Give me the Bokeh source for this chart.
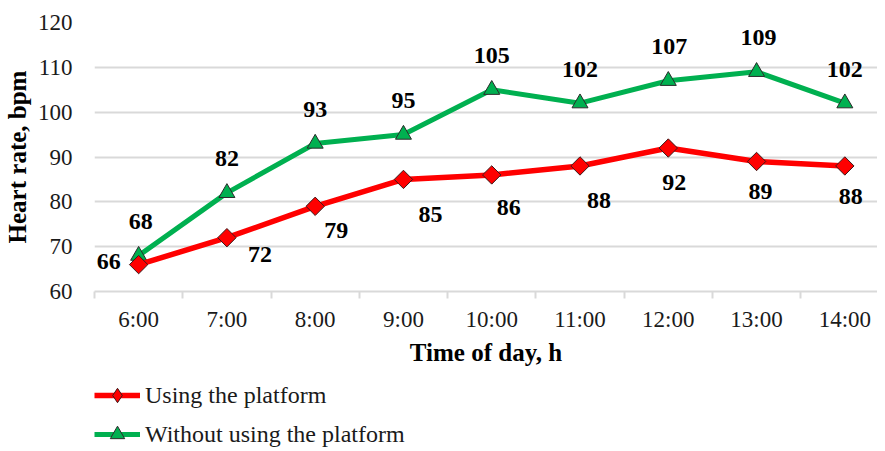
import math
from bokeh.plotting import figure
from bokeh.layouts import column
from bokeh.models import (ColumnDataSource, Range1d, FixedTicker, LabelSet,
                          Legend, LegendItem)
from bokeh.embed import file_html
from bokeh.resources import INLINE

# ---- data ----
times = ["6:00", "7:00", "8:00", "9:00", "10:00", "11:00", "12:00", "13:00", "14:00"]
using_platform = [66, 72, 79, 85, 86, 88, 92, 89, 88]
without_platform = [68, 82, 93, 95, 105, 102, 107, 109, 102]
y_ticks = [60, 70, 80, 90, 100, 110, 120]
series_names = ["Using the platform", "Without using the platform"]

# label placement (screen px), style only
red_dx = [-30, 33, 21, 27, 17, 19, 6, 4, 6]
red_dy = [3, -17, -24, -35, -33, -35, -34, -30, -31]
green_dx = [2, 0, 0, 0, 0, 0, 1, 2, 0]
green_dy = [34] * 9

FONT = "Liberation Serif"
RED = "#FF0000"
GREEN = "#00B050"
GRID = "#D9D9D9"

xs = list(range(len(times)))
src_red = ColumnDataSource(dict(x=xs, y=using_platform,
                                t=[str(v) for v in using_platform],
                                dx=red_dx, dy=red_dy))
src_green = ColumnDataSource(dict(x=xs, y=without_platform,
                                  t=[str(v) for v in without_platform],
                                  dx=green_dx, dy=green_dy))

p = figure(width=877, height=368, output_backend="svg", toolbar_location=None,
           x_range=Range1d(-0.5, 8.37), y_range=Range1d(60, 120),
           min_border_left=94, min_border_right=0, min_border_top=22,
           min_border_bottom=77)
p.outline_line_color = None
p.background_fill_color = "white"
p.border_fill_color = "white"

# axes
p.xaxis.ticker = FixedTicker(ticks=xs, minor_ticks=[i - 0.5 for i in range(len(times) + 1)])
p.xaxis.major_label_overrides = {i: t for i, t in enumerate(times)}
p.xaxis.major_tick_in = 0
p.xaxis.major_tick_out = 0
p.xaxis.minor_tick_in = 0
p.xaxis.minor_tick_out = 7
p.xaxis.minor_tick_line_color = GRID
p.xaxis.minor_tick_line_width = 2
p.xaxis.axis_line_color = GRID
p.xaxis.axis_line_width = 2
p.xaxis.major_label_standoff = 8
p.xaxis.major_label_text_font = FONT
p.xaxis.major_label_text_font_size = "23px"
p.xaxis.major_label_text_color = "#1a1a1a"
p.xaxis.axis_label = "Time of day, h"
p.xaxis.axis_label_text_font = FONT
p.xaxis.axis_label_text_font_size = "25px"
p.xaxis.axis_label_text_font_style = "bold"
p.xaxis.axis_label_text_color = "black"
p.xaxis.axis_label_standoff = 4

p.yaxis.ticker = FixedTicker(ticks=y_ticks)
p.yaxis.major_tick_in = 0
p.yaxis.major_tick_out = 0
p.yaxis.minor_tick_in = 0
p.yaxis.minor_tick_out = 0
p.yaxis.axis_line_color = None
p.yaxis.major_label_standoff = 22
p.yaxis.major_label_text_font = FONT
p.yaxis.major_label_text_font_size = "23px"
p.yaxis.major_label_text_color = "#1a1a1a"
p.yaxis.axis_label = "Heart rate, bpm"
p.yaxis.axis_label_text_font = FONT
p.yaxis.axis_label_text_font_size = "25px"
p.yaxis.axis_label_text_font_style = "bold"
p.yaxis.axis_label_text_color = "black"
p.yaxis.axis_label_standoff = 4

p.xgrid.visible = False
p.ygrid.grid_line_color = GRID
p.ygrid.grid_line_width = 2

# series
line_kw_green = dict(line_color=GREEN, line_width=5)
mark_kw_green = dict(marker="triangle", size=16, fill_color=GREEN,
                     line_color="#2b2b2b", line_width=1)
line_kw_red = dict(line_color=RED, line_width=5.5)
mark_kw_red = dict(marker="square", angle=math.pi / 4, size=13, fill_color=RED,
                   line_color="#3a1a1a", line_width=1)

p.line("x", "y", source=src_green, **line_kw_green)
p.scatter("x", "y", source=src_green, **mark_kw_green)
p.line("x", "y", source=src_red, **line_kw_red)
p.scatter("x", "y", source=src_red, **mark_kw_red)

for src in (src_red, src_green):
    p.add_layout(LabelSet(x="x", y="y", text="t", source=src,
                          x_offset="dx", y_offset="dy",
                          text_align="center", text_baseline="middle",
                          text_font=FONT, text_font_size="24px",
                          text_font_style="bold", text_color="black"))

# ---- legend strip below the chart ----
lg = figure(width=877, height=80, output_backend="svg", toolbar_location=None,
            x_range=Range1d(0, 1), y_range=Range1d(0, 1),
            x_axis_location=None, y_axis_location=None,
            min_border_left=86, min_border_right=0, min_border_top=0,
            min_border_bottom=0)
lg.outline_line_color = None
lg.grid.visible = False
# same series, outside the strip's visible range: used only for the legend swatches
lr1 = lg.line("x", "y", source=src_red, **line_kw_red)
lr2 = lg.scatter("x", "y", source=src_red, marker="diamond", fill_color=RED,
                 line_color="#3a1a1a", line_width=1)
lg1 = lg.line("x", "y", source=src_green, **line_kw_green)
lg2 = lg.scatter("x", "y", source=src_green, **mark_kw_green)

legend = Legend(items=[LegendItem(label=series_names[0], renderers=[lr1, lr2]),
                       LegendItem(label=series_names[1], renderers=[lg1, lg2])],
                location=(0, -4), orientation="vertical",
                glyph_width=46, glyph_height=36, spacing=3,
                label_standoff=5, padding=0, margin=0,
                label_text_font=FONT, label_text_font_size="24px",
                label_text_color="#1a1a1a",
                border_line_color=None, background_fill_alpha=0)
lg.add_layout(legend, "center")

layout = column(p, lg, spacing=0)
open("out.html", "w").write(file_html(layout, INLINE))
